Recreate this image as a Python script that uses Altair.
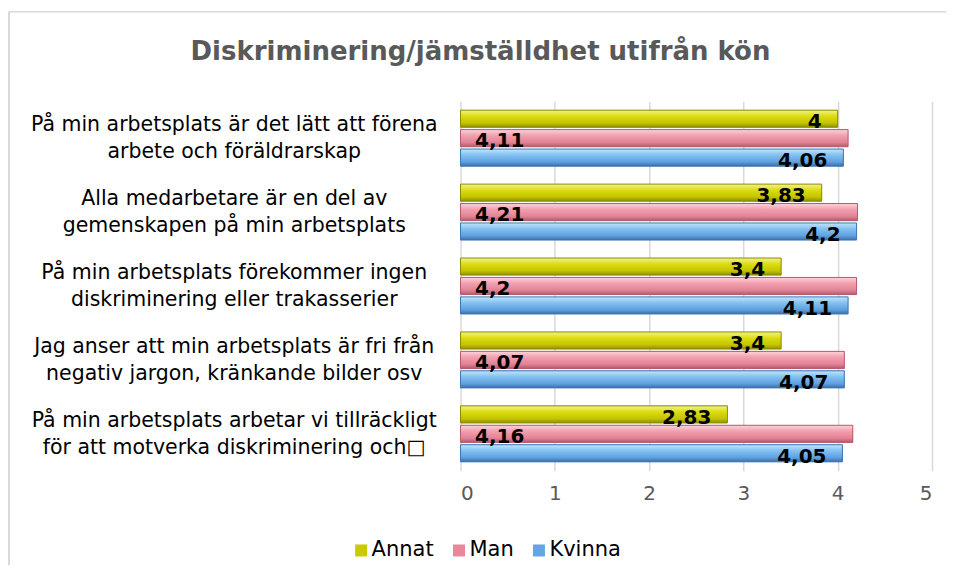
import altair as alt
import pandas as pd

# ---------------- data ----------------
title_text = "Diskriminering/jämställdhet utifrån kön"
questions = [
    "På min arbetsplats är det lätt att förena\narbete och föräldrarskap",
    "Alla medarbetare är en del av\ngemenskapen på min arbetsplats",
    "På min arbetsplats förekommer ingen\ndiskriminering eller trakasserier",
    "Jag anser att min arbetsplats är fri från\nnegativ jargon, kränkande bilder osv",
    "På min arbetsplats arbetar vi tillräckligt\nför att motverka diskriminering och\u25a1",
]
series = ["Annat", "Man", "Kvinna"]
annat = [4.00, 3.83, 3.40, 3.40, 2.83]
man = [4.11, 4.21, 4.20, 4.07, 4.16]
kvinna = [4.06, 4.20, 4.11, 4.07, 4.05]
x_ticks = [0, 1, 2, 3, 4, 5]

base_colors = ["#CACA00", "#E8889A", "#64A5E3"]
stroke_colors = ["#8C8C00", "#B55B6C", "#3E74B0"]
gradients = [
    [("#F2F291", 0.0), ("#DCDC10", 0.35), ("#C4C400", 0.75), ("#8E8E00", 1.0)],
    [("#FCD3DB", 0.0), ("#F29FAE", 0.35), ("#E28296", 0.75), ("#B45A6B", 1.0)],
    [("#C3E5FB", 0.0), ("#82C1F2", 0.35), ("#60A0DE", 0.75), ("#3B6EAB", 1.0)],
]

rows = []
for s, vals in zip(series, [annat, man, kvinna]):
    for q, v in zip(questions, vals):
        rows.append({"question": q, "series": s, "value": v,
                     "label": f"{v:g}".replace(".", ",")})
df = pd.DataFrame(rows)

FONT = "DejaVu Sans"

y_enc = alt.Y(
    "question:N",
    sort=questions,
    scale=alt.Scale(paddingInner=0.243, paddingOuter=0.1215),
    axis=alt.Axis(
        title=None,
        labelExpr="split(datum.label, '\\n')",
        labelAlign="center",
        labelBaseline="middle",
        labelPadding=227,
        labelOffset=-13,
        labelFont=FONT,
        labelFontSize=20.5,
        labelColor="#000000",
        labelLineHeight=26.7,
        labelLimit=700,
        labelOverlap=False,
        ticks=False,
        domain=False,
        grid=False,
    ),
)
yoff_enc = alt.YOffset(
    "series:N", sort=series,
    scale=alt.Scale(domain=series, paddingInner=0.12, paddingOuter=0),
)
x_enc = alt.X(
    "value:Q",
    scale=alt.Scale(domain=[0, 5], nice=False),
    axis=alt.Axis(
        title=None,
        values=x_ticks,
        format="d",
        grid=True,
        gridColor="#d9d9d9",
        gridWidth=1.5,
        domain=False,
        ticks=False,
        labelFont=FONT,
        labelFontSize=20,
        labelColor="#595959",
        labelPadding=13,
    ),
)

base = alt.Chart(df).mark_bar().encode(
    x=x_enc,
    y=y_enc,
    yOffset=yoff_enc,
    color=alt.Color(
        "series:N",
        sort=series,
        scale=alt.Scale(domain=series, range=base_colors),
        legend=alt.Legend(
            orient="none",
            legendX=-110,
            legendY=439,
            direction="horizontal",
            title=None,
            symbolType="square",
            symbolSize=144,
            symbolStrokeWidth=0,
            labelFont=FONT,
            labelFontSize=21,
            labelColor="#000000",
            labelOffset=0,
            columnPadding=14,
        ),
    ),
)

layers = [base]
for s, grad, sc in zip(series, gradients, stroke_colors):
    g = alt.Gradient(
        gradient="linear",
        stops=[alt.GradientStop(color=c, offset=o) for c, o in grad],
        x1=0, x2=0, y1=0, y2=1,
    )
    layers.append(
        alt.Chart(df)
        .transform_filter(alt.datum.series == s)
        .mark_bar(fill=g, stroke=sc, strokeWidth=1)
        .encode(x="value:Q", y=alt.Y("question:N", sort=questions), yOffset=alt.YOffset("series:N", sort=series))
    )

txt_end = (
    alt.Chart(df)
    .transform_filter("datum.series != 'Man'")
    .mark_text(align="right", baseline="alphabetic", dx=-16, dy=9.3,
               font=FONT, fontWeight="bold", fontSize=20, color="#000000")
    .encode(x="value:Q", y=alt.Y("question:N", sort=questions),
            yOffset=alt.YOffset("series:N", sort=series), text="label:N")
)
txt_man = (
    alt.Chart(df)
    .transform_filter("datum.series == 'Man'")
    .transform_calculate(zero="0")
    .mark_text(align="left", baseline="alphabetic", dx=14.5, dy=9.3,
               font=FONT, fontWeight="bold", fontSize=20, color="#000000")
    .encode(x="zero:Q", y=alt.Y("question:N", sort=questions),
            yOffset=alt.YOffset("series:N", sort=series), text="label:N")
)
layers += [txt_end, txt_man]

title_df = pd.DataFrame({"t": [title_text]})
title = alt.Chart(title_df).mark_text(
    font=FONT, fontWeight="bold", fontSize=26, color="#595959",
    align="center", baseline="alphabetic",
).encode(x=alt.value(20), y=alt.value(-41.5), text="t:N")

frame_df = pd.DataFrame({"k": [0]})
left_rule = alt.Chart(frame_df).mark_rule(color="#d9d9d9", strokeWidth=2).encode(
    x=alt.value(-452), y=alt.value(-89.5), y2=alt.value(464.5))
top_rule = alt.Chart(frame_df).mark_rule(color="#d9d9d9", strokeWidth=1.5).encode(
    x=alt.value(-452), x2=alt.value(486), y=alt.value(-89.5))

layers += [title, left_rule, top_rule]

chart = (
    alt.layer(*layers)
    .properties(width=472, height=370,
                padding={"left": 0, "top": 2, "right": 0, "bottom": 0},
                background="white")
    .configure_view(stroke=None)
)

chart.save("out.html", embed_options={"renderer": "svg", "actions": False})
